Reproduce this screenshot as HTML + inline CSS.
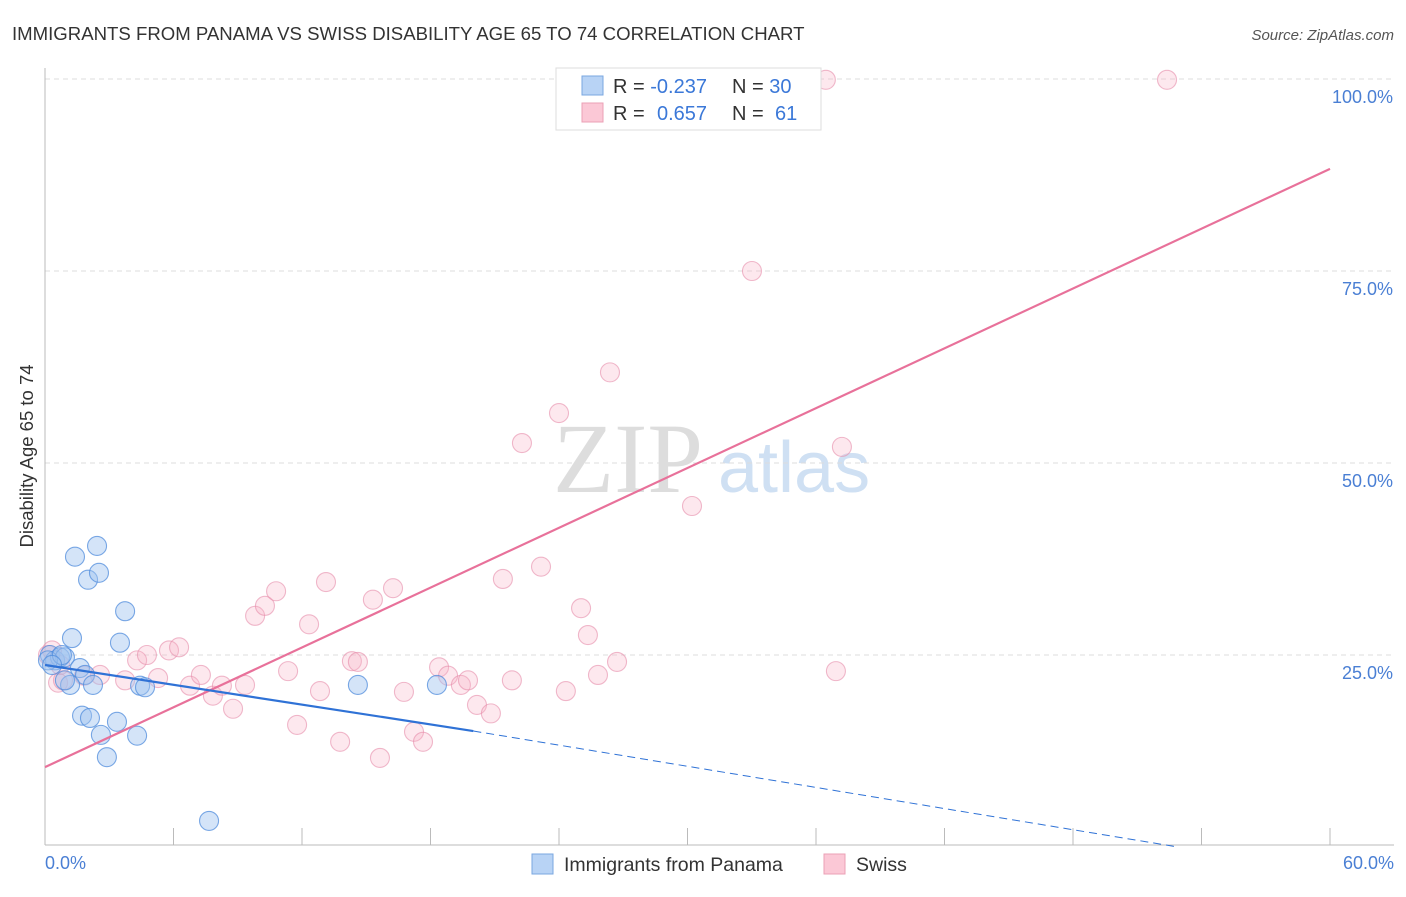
<!DOCTYPE html>
<html><head><meta charset="utf-8"><style>
body{margin:0;background:#fff;font-family:"Liberation Sans",sans-serif;}
</style></head><body>
<svg width="1406" height="892" xmlns="http://www.w3.org/2000/svg" font-family="Liberation Sans, sans-serif">
<text x="12" y="40" font-size="18.6" fill="#333">IMMIGRANTS FROM PANAMA VS SWISS DISABILITY AGE 65 TO 74 CORRELATION CHART</text>
<text x="1394" y="40" font-size="15" fill="#555" font-style="italic" text-anchor="end">Source: ZipAtlas.com</text>
<text x="553" y="492" font-size="100" fill="#ddd" font-family="Liberation Serif, serif">ZIP</text>
<text x="718" y="492" font-size="72" fill="#cfe0f3">atlas</text>
<g id="grid"></g>
<g id="axes"></g>
<g id="marks"></g>
<text transform="translate(33,456) rotate(-90)" font-size="18.5" fill="#333" text-anchor="middle">Disability Age 65 to 74</text>
<text x="45" y="869" font-size="18" fill="#4a7fd4">0.0%</text>
<text x="1394" y="869" font-size="18" fill="#4a7fd4" text-anchor="end">60.0%</text>
<g>
<rect x="556" y="68" width="265" height="62" fill="#fff" stroke="#ddd"/>
<rect x="582" y="76" width="21" height="19" fill="#b8d3f5" stroke="#7aa7e0"/>
<rect x="582" y="103" width="21" height="19" fill="#fbc8d6" stroke="#eba0b6"/>
<text x="613" y="93" font-size="20" fill="#333"><tspan>R = </tspan><tspan fill="#3b78d8">-0.237</tspan><tspan x="732">N = </tspan><tspan fill="#3b78d8">30</tspan></text>
<text x="613" y="120" font-size="20" fill="#333"><tspan>R = </tspan><tspan x="657" fill="#3b78d8">0.657</tspan><tspan x="732">N = </tspan><tspan x="775" fill="#3b78d8">61</tspan></text>
</g>
<g>
<rect x="532" y="854" width="21" height="20" fill="#b8d3f5" stroke="#7aa7e0"/>
<text x="564" y="871" font-size="19.5" fill="#333">Immigrants from Panama</text>
<rect x="824" y="854" width="21" height="20" fill="#fbc8d6" stroke="#eba0b6"/>
<text x="856" y="871" font-size="19.5" fill="#333">Swiss</text>
</g>
</svg>
<script>
const yTicks=[100,75,50,25];
const yTickLabels=["100.0%","75.0%","50.0%","25.0%"];
const xTicks=[0,6,12,18,24,30,36,42,48,54,60];
const panamaX=[0.23,0.47,0.70,0.93,0.14,1.40,2.43,2.01,2.52,3.74,1.26,3.50,1.63,1.87,1.17,2.24,4.44,4.67,1.73,2.10,3.36,2.61,4.30,2.89,7.66,14.61,18.30,0.93,0.79,0.33];
const panamaY=[25.0,24.3,24.7,24.7,24.3,37.8,39.2,34.8,35.7,30.7,27.2,26.6,23.3,22.4,21.1,21.1,21.0,20.8,17.1,16.8,16.3,14.6,14.5,11.7,3.4,21.1,21.1,21.7,25.0,23.7];
const swissX=[0.14,0.61,0.84,1.82,2.57,3.74,4.30,4.76,5.28,5.79,6.26,6.77,7.28,7.84,8.26,8.78,9.34,9.81,10.27,10.79,11.35,11.77,12.33,12.84,13.12,13.78,14.33,14.61,15.31,15.64,16.25,16.76,17.23,17.65,18.40,18.82,19.42,19.75,20.17,20.82,21.38,21.80,22.27,23.16,24.00,24.32,25.03,25.35,25.82,26.38,26.71,30.21,27.31,33.01,35.39,36.46,36.93,37.21,52.39,0.70,0.33];
const swissY=[25.0,21.4,21.7,22.3,22.4,21.7,24.3,25.0,22.0,25.6,26.0,21.0,22.4,19.7,21.0,18.0,21.1,30.1,31.4,33.3,22.9,15.9,29.0,20.3,34.5,13.7,24.2,24.1,32.2,11.6,33.7,20.2,15.0,13.7,23.4,22.3,21.1,21.7,18.5,17.4,34.9,21.7,52.6,36.5,56.5,20.3,31.1,27.6,22.4,61.8,24.1,44.4,99.9,75.0,99.9,99.9,22.9,52.1,99.9,23.7,25.6];
const swissTrend=[10.4,88.3];
const panamaTrend=[23.7,15.1,0];
const panamaTrendX=[0,20,52.9];
const NS="http://www.w3.org/2000/svg";
const sx=v=>45+v/60*1285, sy=v=>847-v/100*768;
function mk(t,a,p){const e=document.createElementNS(NS,t);for(const k in a)e.setAttribute(k,a[k]);p.appendChild(e);return e;}
const grid=document.getElementById('grid'),axes=document.getElementById('axes'),marks=document.getElementById('marks');
yTicks.forEach((v,i)=>{
 const l=mk('line',{x1:45,x2:1394,y1:sy(v),y2:sy(v),stroke:'#ddd','stroke-dasharray':'5,4'},grid);
 
 
 const t=mk('text',{x:1393,y:sy(v)+24,'font-size':18,fill:'#4a7fd4','text-anchor':'end'},grid);
 t.textContent=yTickLabels[i];
 
 
});
const ya=mk('line',{x1:45,x2:45,y1:68,y2:845,stroke:'#bbb'},axes);


const xa=mk('line',{x1:45,x2:1394,y1:845,y2:845,stroke:'#bbb'},axes);


xTicks.forEach(v=>{const l=mk('line',{x1:sx(v),x2:sx(v),y1:828,y2:845,stroke:'#bbb'},axes);
 
 });
swissX.forEach((x,i)=>{const c=mk('circle',{cx:sx(x),cy:sy(swissY[i]),r:9.5,fill:'rgba(248,180,200,0.3)',stroke:'rgba(230,140,170,0.6)','stroke-width':1.1},marks);
 
 });
panamaX.forEach((x,i)=>{const c=mk('circle',{cx:sx(x),cy:sy(panamaY[i]),r:9.5,fill:'rgba(160,196,240,0.45)',stroke:'rgba(80,140,220,0.75)','stroke-width':1.1},marks);
 
 });
const st=mk('line',{x1:sx(0),y1:sy(swissTrend[0]),x2:sx(60),y2:sy(swissTrend[1]),stroke:'#e8719a','stroke-width':2.2},marks);


const pt=mk('line',{x1:sx(panamaTrendX[0]),y1:sy(panamaTrend[0]),x2:sx(panamaTrendX[1]),y2:sy(panamaTrend[1]),stroke:'#2f72d6','stroke-width':2.2},marks);


const pd=mk('line',{x1:sx(panamaTrendX[1]),y1:sy(panamaTrend[1]),x2:sx(panamaTrendX[2]),y2:sy(panamaTrend[2]),stroke:'#2f72d6','stroke-width':1,'stroke-dasharray':'8,5'},marks);


</script>
</body></html>
